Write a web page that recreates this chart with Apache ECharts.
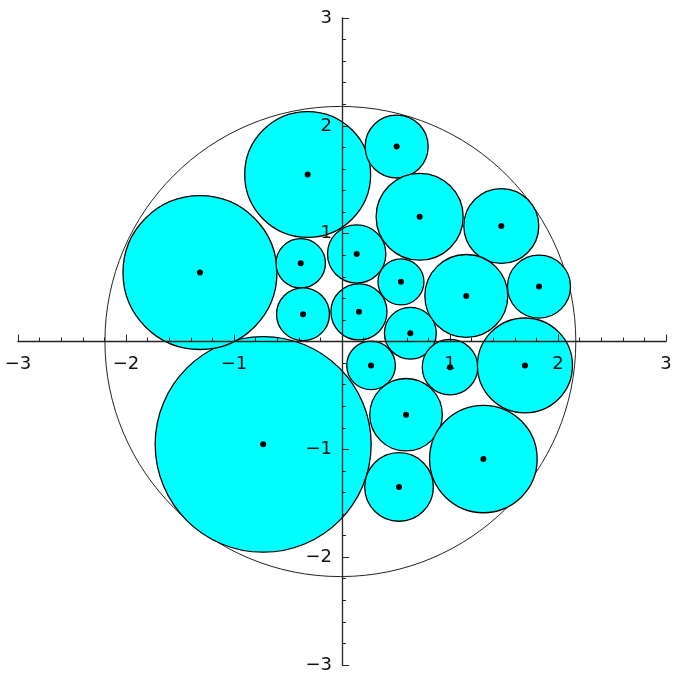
<!DOCTYPE html>
<html>
<head>
<meta charset="utf-8">
<script src="https://cdn.jsdelivr.net/npm/echarts@6/dist/echarts.min.js"></script>
<style>
  html, body { margin: 0; padding: 0; background: #fff; }
  #chart { width: 673px; height: 676px; }
</style>
</head>
<body>
<div id="chart"></div>
<script>
// Packed circles: centres and radii in plot units
const circleX = [-0.73, -1.315, -0.318, -0.382, -0.361, 0.506, 0.719, 1.475, 0.136, 0.546,
                 1.151, 1.824, 0.157, 0.633, 0.269, 1.0, 1.694, 0.593, 1.309, 0.528];
const circleY = [-0.954, 0.639, 1.549, 0.725, 0.253, 1.808, 1.157, 1.071, 0.812, 0.553,
                 0.423, 0.509, 0.275, 0.077, -0.222, -0.238, -0.222, -0.679, -1.09, -1.349];
const circleR = [1.0, 0.713, 0.583, 0.229, 0.245, 0.292, 0.403, 0.347, 0.27, 0.213,
                 0.384, 0.292, 0.26, 0.24, 0.225, 0.257, 0.44, 0.336, 0.498, 0.318];

// Enclosing circle
const boundX = [-0.015];
const boundY = [0];
const boundR = [2.18];

// Axis tick labels
const tickValues = [-3, -2, -1, 1, 2, 3];

const circleData = circleX.map((x, i) => [x, circleY[i], circleR[i]]);
const boundData = boundX.map((x, i) => [x, boundY[i], boundR[i]]);

function fmt(v) {
  if (!tickValues.includes(v)) return '';
  return v < 0 ? '\u2212' + Math.abs(v) : String(v);
}

const labelFont = { fontFamily: 'DejaVu Sans', fontSize: 18, color: '#111' };

const W = 673, H = 676;
const G = { left: 18, right: 7, top: 18, bottom: 11 };
const plotW = W - G.left - G.right;
const plotH = H - G.top - G.bottom;

const chart = echarts.init(document.getElementById('chart'), null, { renderer: 'canvas' });

// The axes cross at the origin: shift each one from its grid edge to the middle
const axisCommon = {
  type: 'value', min: -3, max: 3, interval: 1, z: 10,
  axisLine: { onZero: false, lineStyle: { color: '#222', width: 1.3 } },
  axisTick: { inside: true, length: 7, lineStyle: { color: '#222', width: 1 } },
  minorTick: { show: true, splitNumber: 5, length: 4, lineStyle: { color: '#222', width: 1 } },
  splitLine: { show: false }
};

chart.setOption({
  animation: false,
  backgroundColor: '#fff',
  grid: Object.assign({ containLabel: false, outerBoundsMode: 'none' }, G),
  xAxis: Object.assign({}, axisCommon, {
    position: 'bottom',
    offset: -plotH / 2,
    axisLabel: Object.assign({ margin: 14, formatter: fmt, showMinLabel: true, showMaxLabel: true }, labelFont)
  }),
  yAxis: Object.assign({}, axisCommon, {
    position: 'left',
    offset: -plotW / 2,
    axisLabel: Object.assign({ margin: 10, formatter: fmt, showMinLabel: true, showMaxLabel: true }, labelFont)
  }),
  series: [
    {
      type: 'custom',
      z: 1,
      data: boundData,
      renderItem: function (params, api) {
        const c = api.coord([api.value(0), api.value(1)]);
        const s = api.size([api.value(2), api.value(2)]);
        return {
          type: 'ellipse',
          shape: { cx: c[0], cy: c[1], rx: s[0], ry: s[1] },
          style: { fill: 'none', stroke: '#222', lineWidth: 1 }
        };
      }
    },
    {
      type: 'custom',
      z: 2,
      data: circleData,
      renderItem: function (params, api) {
        const c = api.coord([api.value(0), api.value(1)]);
        const s = api.size([api.value(2), api.value(2)]);
        return {
          type: 'group',
          children: [
            {
              type: 'ellipse',
              shape: { cx: c[0], cy: c[1], rx: s[0], ry: s[1] },
              style: { fill: '#00ffff', stroke: '#000', lineWidth: 1.3 }
            },
            {
              type: 'circle',
              shape: { cx: c[0], cy: c[1], r: 3 },
              style: { fill: '#000' }
            }
          ]
        };
      }
    }
  ]
});
</script>
</body>
</html>
